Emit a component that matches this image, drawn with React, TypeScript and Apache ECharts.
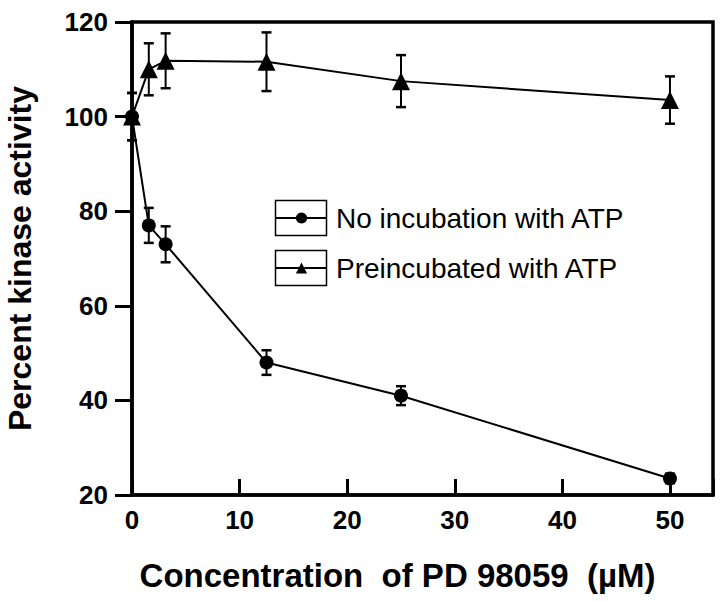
import React, { useEffect, useRef } from "react";
import * as echarts from "echarts";

const xValues = [0, 1.56, 3.125, 12.5, 25, 50];
const noIncubation = [100, 77, 73, 48, 41, 23.5];
const noIncubationErr = [5, 3.7, 3.8, 2.6, 2, 1];
const preincubated = [100, 110, 111.8, 111.6, 107.5, 103.5];
const preincubatedErr = [5, 5.5, 5.8, 6.2, 5.5, 5];
const seriesNames = ["No incubation with ATP", "Preincubated with ATP"];
const xTitle = "Concentration  of PD 98059  (\u00b5M)";
const yTitle = "Percent kinase activity";

const FONT = "'Liberation Sans', Arial, Helvetica, sans-serif";

function errData(vals: number[], errs: number[]) {
  return xValues.map((x, i) => [x, vals[i] - errs[i], vals[i] + errs[i]]);
}

function errRender(params: any, api: any) {
  const x = api.value(0);
  const lo = api.value(1);
  const hi = api.value(2);
  const p1 = api.coord([x, hi]);
  const p2 = api.coord([x, lo]);
  const w = 5;
  const st = { stroke: "#000", lineWidth: 2 };
  return {
    type: "group",
    children: [
      { type: "line", shape: { x1: p1[0], y1: p1[1], x2: p2[0], y2: p2[1] }, style: st },
      { type: "line", shape: { x1: p1[0] - w, y1: p1[1], x2: p1[0] + w, y2: p1[1] }, style: { stroke: "#000", lineWidth: 2.5 } },
      { type: "line", shape: { x1: p2[0] - w, y1: p2[1], x2: p2[0] + w, y2: p2[1] }, style: { stroke: "#000", lineWidth: 2.5 } },
    ],
  };
}

export default function App() {
  const ref = useRef<HTMLDivElement>(null);
  useEffect(() => {
    document.body.style.margin = "0";
    if (!ref.current) return;
    const chart = echarts.init(ref.current, null, { renderer: "svg" });
    const legendText = {
      fontSize: 28,
      color: "#000",
      fontFamily: FONT,
      lineHeight: 30,
      padding: [0, 0, 0, 4],
    };
    chart.setOption({
      animation: false,
      backgroundColor: "#fff",
      grid: {
        left: 132,
        top: 22,
        right: 7,
        bottom: 106,
        show: true,
        borderColor: "#000",
        borderWidth: 3.5,
        containLabel: false,
        outerBoundsMode: "none",
      },
      legend: [
        {
          data: [seriesNames[0]],
          left: 275,
          top: 203,
          padding: 0,
          itemWidth: 51,
          itemHeight: 14,
          selectedMode: false,
          textStyle: legendText,
        },
        {
          data: [seriesNames[1]],
          left: 275,
          top: 253,
          padding: 0,
          itemWidth: 51,
          itemHeight: 14,
          selectedMode: false,
          textStyle: legendText,
        },
      ],
      graphic: [
        { type: "rect", shape: { x: 275.5, y: 200.5, width: 51, height: 35 }, style: { fill: "none", stroke: "#000", lineWidth: 1.5 }, z: 10 },
        { type: "rect", shape: { x: 275.5, y: 250.5, width: 51, height: 35 }, style: { fill: "none", stroke: "#000", lineWidth: 1.5 }, z: 10 },
      ],
      xAxis: {
        type: "value",
        min: 0,
        max: 54,
        interval: 10,
        name: xTitle,
        nameLocation: "middle",
        nameGap: 64,
        nameTextStyle: { fontSize: 33, fontWeight: "bold", color: "#000", fontFamily: FONT, padding: [0, 50, 0, 0] },
        axisLine: { lineStyle: { color: "#000", width: 3.5 } },
        axisTick: { inside: true, length: 16, lineStyle: { color: "#000", width: 3 } },
        axisLabel: {
          fontSize: 26,
          fontWeight: "bold",
          color: "#000",
          fontFamily: FONT,
          margin: 12,
          formatter: (v: number) => (v % 10 === 0 && v <= 50 ? String(v) : ""),
        },
        splitLine: { show: false },
      },
      yAxis: {
        type: "value",
        min: 20,
        max: 120,
        interval: 20,
        name: yTitle,
        nameLocation: "middle",
        nameGap: 96,
        nameTextStyle: { fontSize: 32, lineHeight: 32, fontWeight: "bold", color: "#000", fontFamily: FONT },
        axisLine: { lineStyle: { color: "#000", width: 3.5 } },
        axisTick: { inside: false, length: 17, lineStyle: { color: "#000", width: 3 } },
        axisLabel: { fontSize: 26, fontWeight: "bold", color: "#000", fontFamily: FONT, margin: 24 },
        splitLine: { show: false },
      },
      series: [
        {
          type: "custom",
          renderItem: errRender,
          data: errData(noIncubation, noIncubationErr),
          encode: { x: 0, y: [1, 2] },
          z: 1,
          silent: true,
        },
        {
          type: "custom",
          renderItem: errRender,
          data: errData(preincubated, preincubatedErr),
          encode: { x: 0, y: [1, 2] },
          z: 1,
          silent: true,
        },
        {
          name: seriesNames[0],
          type: "line",
          data: xValues.map((x, i) => [x, noIncubation[i]]),
          symbol: "circle",
          symbolSize: 14,
          itemStyle: { color: "#000" },
          lineStyle: { color: "#000", width: 2 },
          z: 3,
        },
        {
          name: seriesNames[1],
          type: "line",
          data: xValues.map((x, i) => [x, preincubated[i]]),
          symbol: "triangle",
          symbolSize: 18,
          itemStyle: { color: "#000" },
          lineStyle: { color: "#000", width: 2 },
          z: 3,
        },
      ],
    });
    return () => chart.dispose();
  }, []);
  return (
    <div
      ref={ref}
      style={{ position: "fixed", left: 0, top: 0, width: 720, height: 601, background: "#fff" }}
    />
  );
}
